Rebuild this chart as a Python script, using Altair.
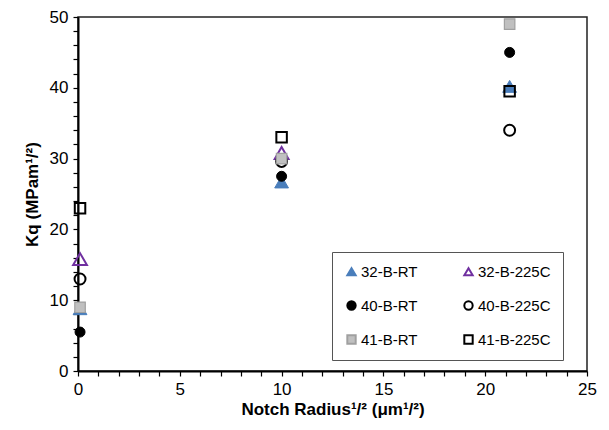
import altair as alt
import pandas as pd

series = ["32-B-RT", "32-B-225C", "40-B-RT", "40-B-225C", "41-B-RT", "41-B-225C"]
legend_order = ["32-B-RT", "32-B-225C", "40-B-RT", "40-B-225C", "41-B-RT", "41-B-225C"]
radius = [0.1, 10.0, 21.2]
kq_32_rt = [8.8, 26.7, 40.2]
kq_32_225 = [15.8, 30.8, None]
kq_40_rt = [5.5, 27.5, 45.0]
kq_40_225 = [13.0, 29.6, 34.0]
kq_41_rt = [9.0, 30.0, 49.0]
kq_41_225 = [23.0, 33.0, 39.5]

shapes = ["triangle-up", "triangle-up", "circle", "circle", "square", "square"]
fills = ["#4a7ebb", "transparent", "#000000", "transparent", "#c0c0c0", "transparent"]
strokes = ["#4a7ebb", "#7030a0", "#000000", "#000000", "#a0a0a0", "#000000"]
sizes = [190, 190, 100, 120, 110, 110]
widths = [1, 2, 1, 2, 1.2, 2]

rows = []
for i, (name, vals) in enumerate(zip(series, [kq_32_rt, kq_32_225, kq_40_rt, kq_40_225, kq_41_rt, kq_41_225])):
    for r, v in zip(radius, vals):
        if v is not None:
            rows.append({"series": name, "idx": i, "radius": r, "kq": v})
df = pd.DataFrame(rows)
idx_domain = list(range(len(series)))

# Vega lays legend entries out column by column: reorder so rows read like the reference
col_major = legend_order[0::2] + legend_order[1::2]

FONT = "Liberation Sans"
leg = alt.Legend(title=None, values=col_major)

chart = alt.Chart(df).mark_point(filled=True, opacity=1).encode(
    x=alt.X("radius:Q",
            scale=alt.Scale(domain=[0, 25], nice=False, zero=True),
            axis=alt.Axis(values=list(range(0, 26)),
                          labelExpr="datum.value % 5 === 0 ? datum.label : ''",
                          title="Notch Radius¹/² (μm¹/²)",
                          labelOverlap=False, labelFlush=False,
                          titlePadding=4)),
    y=alt.Y("kq:Q",
            scale=alt.Scale(domain=[0, 50], nice=False),
            axis=alt.Axis(values=list(range(0, 51, 2)),
                          labelExpr="datum.value % 10 === 0 ? datum.label : ''",
                          title="Kq (MPam¹/²)",
                          labelOverlap=False, labelFlush=False,
                          titlePadding=8)),
    shape=alt.Shape("series:N", scale=alt.Scale(domain=series, range=shapes), legend=leg),
    fill=alt.Fill("series:N", scale=alt.Scale(domain=series, range=fills), legend=leg),
    stroke=alt.Stroke("series:N", scale=alt.Scale(domain=series, range=strokes), legend=leg),
    size=alt.Size("idx:O", scale=alt.Scale(type="ordinal", domain=idx_domain, range=sizes), legend=None),
    strokeWidth=alt.StrokeWidth("idx:O", scale=alt.Scale(type="ordinal", domain=idx_domain, range=widths), legend=None),
    order=alt.Order("idx:Q", sort="ascending"),
).properties(
    width=509, height=354,
    autosize=alt.AutoSizeParams(type="none"),
    padding={"left": 70, "top": 9, "right": 14, "bottom": 55},
).configure_view(
    stroke="#222222", strokeWidth=1.5
).configure_axis(
    grid=False, domainColor="#000000", domainWidth=2,
    tickColor="#000000", tickWidth=1.2, tickSize=5,
    labelFont=FONT, labelFontSize=17, labelColor="#000000", labelPadding=5,
    titleFont=FONT, titleFontSize=17, titleFontWeight="bold", titleColor="#000000",
).configure_legend(
    orient="none", legendX=254, legendY=235, columns=2,
    padding=12, rowPadding=17, columnPadding=42,
    strokeColor="#555555", fillColor="white",
    symbolSize=70, symbolStrokeWidth=2, labelFontSize=15, labelFont=FONT,
    labelColor="#000000", labelOffset=2,
)

chart.save("out.html", embed_options={"renderer": "svg", "actions": False})
